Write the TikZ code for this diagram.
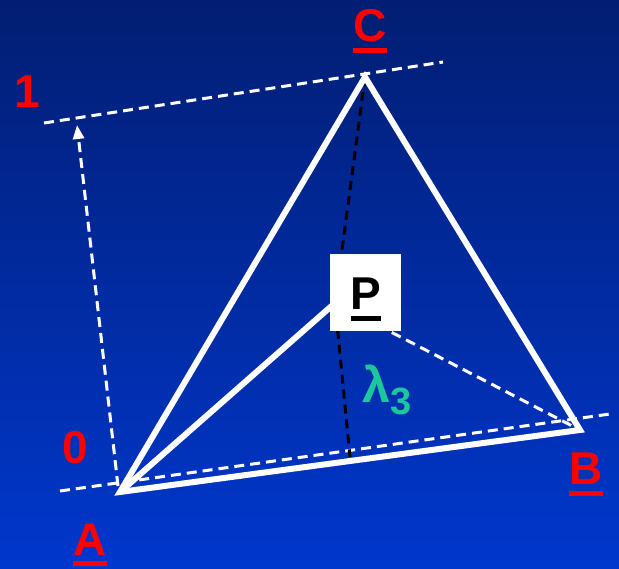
\documentclass[tikz,border=0pt]{standalone}
\usepackage{fontspec}
\setmainfont{Liberation Sans}
\usetikzlibrary{arrows.meta}
\definecolor{bgtop}{RGB}{2,30,115}
\definecolor{bgbottom}{RGB}{0,55,205}
\definecolor{labelred}{RGB}{255,0,0}
\definecolor{lambdagreen}{RGB}{25,200,155}
\newcommand{\ulabel}[1]{\vtop{\hbox{#1}\kern6pt\hrule height 5pt}}

\begin{document}
\begin{tikzpicture}[x=1pt, y=-1pt,
  edge/.style={white, line width=6pt},
  guide/.style={white, line width=3pt, dash pattern=on 10pt off 6pt},
  heightline/.style={black, line width=3pt, dash pattern=on 9pt off 6pt},
  vlabel/.style={labelred, inner sep=0pt, anchor=base, font=\fontsize{46}{46}\selectfont\bfseries}]

  % Background
  \shade[top color=bgtop, bottom color=bgbottom] (0,0) rectangle (619,569);
  \useasboundingbox (0,0) rectangle (619,569);

  % Points
  \coordinate (A) at (120,492);
  \coordinate (B) at (580,430);
  \coordinate (C) at (365,77);
  \coordinate (P) at (335,303);
  \coordinate (foot) at (350,457);
  \coordinate (base0) at (60,491);
  \coordinate (base1) at (610,414);
  \coordinate (top0) at (44,123);
  \coordinate (top1) at (443,62);
  \coordinate (axis0) at (118,486);
  \coordinate (axis1) at (77,125);

  % Level lines 0 and 1
  \draw[guide] (base0) -- (base1);
  \draw[guide] (top0) -- (top1);
  \draw[guide, -{Triangle[width=11pt,length=14pt]}] (axis0) -- (axis1);

  % Height through P
  \draw[heightline] (C) -- (P) -- (foot);
  \draw[guide] (P) -- (B);

  % Triangle
  \draw[edge] (A) -- (B) -- (C) -- cycle;
  \draw[edge] (A) -- (P);

  % Point P
  \node[fill=white, minimum width=71pt, minimum height=77pt, inner sep=0pt] (pbox) at (365.5,292.5) {};
  \node[vlabel, black] (plabel) at (366,310) {\ulabel{P}};

  % Labels
  \node[vlabel] (clabel) at (370,42) {\ulabel{C}};
  \node[vlabel] (alabel) at (90,555) {\ulabel{A}};
  \node[vlabel] (blabel) at (586,485) {\ulabel{B}};
  \node[vlabel] (one) at (27,108) {1};
  \node[vlabel] (zero) at (75,464) {0};
  \node[lambdagreen, inner sep=0pt, anchor=base west, font=\fontsize{50}{50}\selectfont\bfseries] (lam) at (362,403)
    {λ\raisebox{-12pt}{\fontsize{38}{38}\selectfont 3}};
\end{tikzpicture}
\end{document}
